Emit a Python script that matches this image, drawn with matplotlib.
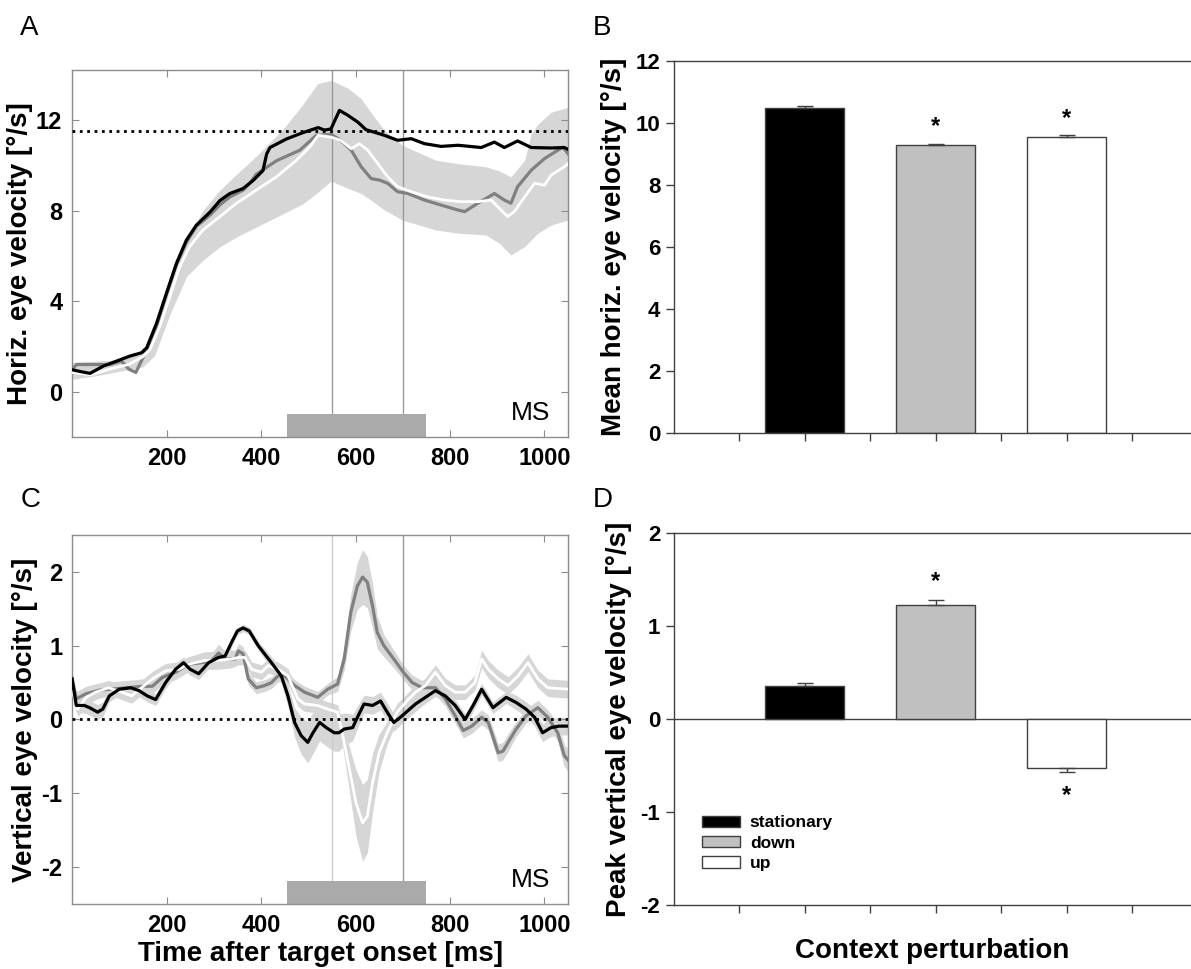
import matplotlib.pyplot as plt
import matplotlib.transforms as mtransforms

plt.rcParams['font.family'] = ['Liberation Sans', 'DejaVu Sans']
plt.rcParams['axes.unicode_minus'] = False

# ---------------- panel A: horizontal eye velocity (deg/s) ----------------
a_stat_t = [0, 20, 38, 66, 94, 122, 147, 158, 179, 200, 221, 242, 263, 292, 313, 334, 362, 383,
            404, 412, 419, 454, 489, 521, 534, 548, 566, 584, 605, 622, 661, 689, 718, 746, 781,
            817, 866, 894, 915, 943, 972, 1014, 1042, 1050]
a_stat_v = [0.97, 0.88, 0.81, 1.13, 1.35, 1.57, 1.72, 1.94, 3.03, 4.36, 5.67, 6.69, 7.35, 7.93,
            8.44, 8.75, 8.97, 9.32, 9.76, 10.5, 10.78, 11.16, 11.44, 11.66, 11.55, 11.6, 12.42,
            12.2, 11.9, 11.57, 11.32, 11.1, 11.17, 10.95, 10.83, 10.88, 10.78, 11.02, 10.78,
            11.07, 10.78, 10.76, 10.78, 10.7]

a_down_t = [0, 10, 45, 80, 105, 120, 135, 150, 160, 179, 200, 221, 242, 263, 292, 313, 334, 362,
            376, 390, 433, 482, 517, 548, 569, 591, 612, 633, 651, 668, 689, 711, 746, 781, 817,
            831, 859, 894, 915, 929, 943, 972, 1000, 1028, 1039, 1050]
a_down_v = [1.0, 1.2, 1.2, 1.2, 1.35, 1.0, 0.85, 1.5, 1.95, 2.9, 4.3, 5.6, 6.6, 7.3, 7.8, 8.25,
            8.6, 8.9, 9.2, 9.6, 10.2, 10.66, 11.32, 11.36, 11.1, 10.66, 9.93, 9.41, 9.34, 9.2,
            8.83, 8.75, 8.46, 8.24, 8.02, 7.95, 8.32, 8.75, 8.46, 8.32, 9.05, 9.78, 10.29, 10.66,
            10.8, 10.5]

a_up_t = [0, 40, 80, 120, 150, 165, 186, 207, 228, 249, 277, 313, 348, 390, 433, 475, 503, 521,
          548, 569, 591, 608, 626, 647, 668, 689, 718, 753, 788, 823, 859, 887, 908, 922, 936,
          958, 979, 1000, 1014, 1042, 1050]
a_up_v = [0.85, 0.75, 1.0, 1.2, 1.55, 1.87, 2.9, 4.21, 5.53, 6.41, 7.14, 7.73, 8.32, 8.9, 9.49,
          10.22, 10.8, 11.32, 11.24, 11.1, 10.73, 10.95, 10.66, 10.07, 9.49, 9.05, 8.83, 8.6,
          8.46, 8.39, 8.39, 8.46, 8.02, 7.73, 7.95, 8.6, 9.2, 9.12, 9.56, 9.93, 10.07]

a_band_t = [0, 50, 100, 150, 175, 207, 242, 277, 313, 348, 390, 447, 489, 520, 548, 584, 612,
            640, 661, 699, 770, 817, 876, 904, 929, 958, 972, 986, 1014, 1050]
a_band_lo = [0.55, 0.7, 0.9, 1.1, 1.6, 3.4, 5.08, 5.8, 6.4, 6.83, 7.27, 7.86, 8.3, 8.8, 9.3,
             8.98, 8.75, 8.35, 8.02, 7.58, 7.14, 7.0, 6.92, 6.56, 6.04, 6.41, 6.7, 7.0, 7.36, 7.58]
a_band_hi = [1.3, 1.35, 1.4, 1.8, 2.6, 4.6, 6.7, 8.0, 8.9, 9.6, 10.4, 11.6, 12.7, 13.6, 13.75,
             13.4, 12.93, 12.12, 11.54, 10.88, 10.22, 10.07, 9.93, 9.75, 9.49, 10.22, 11.39,
             11.8, 12.34, 12.56]
a_ref_level = 11.5

# ---------------- panel C: vertical eye velocity (deg/s) ----------------
c_stat_t = [0, 9, 26, 37, 54, 65, 79, 100, 124, 142, 159, 177, 198, 219, 236, 250, 268, 289,
            310, 324, 338, 350, 362, 375, 394, 422, 443, 457, 471, 485, 499, 510, 524, 538, 555,
            565, 576, 594, 604, 618, 636, 653, 667, 681, 695, 727, 748, 769, 790, 811, 832, 849,
            867, 891, 919, 940, 961, 979, 996, 1014, 1031, 1050]
c_stat_v = [0.55, 0.19, 0.19, 0.16, 0.1, 0.14, 0.32, 0.41, 0.43, 0.39, 0.32, 0.27, 0.5, 0.68,
            0.77, 0.68, 0.62, 0.77, 0.84, 0.86, 1.05, 1.2, 1.24, 1.2, 1.0, 0.77, 0.59, 0.32,
            -0.04, -0.22, -0.31, -0.18, -0.04, -0.11, -0.18, -0.18, -0.13, -0.11, 0.03, 0.21,
            0.19, 0.25, 0.1, -0.04, 0.03, 0.21, 0.3, 0.39, 0.32, 0.19, 0.0, 0.19, 0.41, 0.16,
            0.3, 0.23, 0.14, 0.03, -0.18, -0.11, -0.09, -0.09]
c_stat_se = [0.12, 0.1, 0.1, 0.1, 0.1, 0.1, 0.08, 0.08, 0.08, 0.08, 0.08, 0.08, 0.08, 0.08,
             0.08, 0.08, 0.08, 0.08, 0.08, 0.08, 0.06, 0.05, 0.05, 0.05, 0.06, 0.08, 0.1, 0.15,
             0.2, 0.25, 0.28, 0.28, 0.25, 0.25, 0.25, 0.25, 0.22, 0.18, 0.15, 0.12, 0.12, 0.12,
             0.12, 0.12, 0.1, 0.1, 0.08, 0.08, 0.08, 0.08, 0.08, 0.08, 0.08, 0.08, 0.08, 0.1,
             0.1, 0.12, 0.12, 0.12, 0.12, 0.12]

c_down_t = [0, 9, 30, 60, 100, 150, 170, 191, 219, 247, 275, 296, 310, 325, 345, 352, 362, 373,
            390, 408, 422, 436, 450, 471, 492, 520, 541, 562, 576, 590, 604, 615, 625, 636, 646,
            660, 681, 700, 720, 741, 769, 790, 811, 828, 846, 867, 881, 902, 912, 923, 940, 961,
            986, 1007, 1028, 1042, 1050]
c_down_v = [0.55, 0.28, 0.35, 0.4, 0.42, 0.45, 0.45, 0.57, 0.64, 0.75, 0.77, 0.8, 0.9, 0.82,
            0.82, 0.93, 0.89, 0.55, 0.43, 0.46, 0.5, 0.59, 0.59, 0.46, 0.37, 0.3, 0.41, 0.48,
            0.82, 1.45, 1.81, 1.93, 1.86, 1.54, 1.18, 1.0, 0.82, 0.65, 0.5, 0.43, 0.43, 0.28,
            0.05, -0.15, -0.09, 0.03, -0.04, -0.45, -0.43, -0.31, -0.13, 0.05, 0.16, 0.03,
            -0.18, -0.49, -0.55]
c_down_se = [0.1, 0.1, 0.1, 0.1, 0.1, 0.1, 0.1, 0.1, 0.1, 0.1, 0.1, 0.1, 0.12, 0.1, 0.1, 0.1,
             0.1, 0.08, 0.08, 0.08, 0.08, 0.08, 0.08, 0.08, 0.08, 0.08, 0.08, 0.1, 0.15, 0.25,
             0.32, 0.37, 0.35, 0.3, 0.22, 0.15, 0.12, 0.1, 0.1, 0.1, 0.1, 0.1, 0.1, 0.1, 0.1,
             0.1, 0.1, 0.12, 0.12, 0.12, 0.1, 0.1, 0.1, 0.1, 0.12, 0.15, 0.15]

c_up_t = [0, 12, 30, 50, 77, 105, 126, 147, 170, 198, 226, 247, 282, 310, 338, 352, 366, 380,
          401, 415, 436, 457, 478, 492, 520, 541, 562, 573, 587, 601, 615, 625, 636, 650, 667,
          688, 709, 727, 748, 769, 790, 811, 832, 853, 867, 881, 902, 923, 944, 965, 986, 1007,
          1050]
c_up_v = [0.4, 0.14, 0.3, 0.37, 0.43, 0.37, 0.32, 0.43, 0.55, 0.66, 0.68, 0.75, 0.8, 0.8, 0.82,
          0.84, 0.84, 0.68, 0.64, 0.73, 0.68, 0.59, 0.28, 0.21, 0.19, 0.14, 0.1, -0.22, -0.67,
          -1.13, -1.4, -1.31, -0.86, -0.45, -0.18, 0.1, 0.25, 0.37, 0.46, 0.64, 0.46, 0.37,
          0.37, 0.5, 0.82, 0.68, 0.55, 0.46, 0.59, 0.77, 0.55, 0.43, 0.41]
c_up_se = [0.1, 0.1, 0.1, 0.1, 0.1, 0.1, 0.1, 0.1, 0.1, 0.1, 0.1, 0.1, 0.12, 0.12, 0.12, 0.1,
           0.1, 0.1, 0.1, 0.1, 0.1, 0.1, 0.1, 0.1, 0.1, 0.1, 0.1, 0.15, 0.3, 0.45, 0.52, 0.5,
           0.4, 0.25, 0.15, 0.12, 0.1, 0.1, 0.1, 0.1, 0.1, 0.1, 0.1, 0.1, 0.12, 0.12, 0.12, 0.12,
           0.12, 0.12, 0.12, 0.12, 0.12]

perturb_start, perturb_end = 455, 750
analysis_lines = [550, 700]

# ---------------- panels B / D: bar summaries ----------------
conditions = ['stationary', 'down', 'up']
bar_colors = ['black', '#c0c0c0', 'white']
mean_horiz = [10.5, 9.29, 9.56]
mean_horiz_err = [0.05, 0.05, 0.05]
peak_vert = [0.355, 1.225, -0.53]
peak_vert_err = [0.035, 0.06, 0.04]
horiz_signif = [False, True, True]
vert_signif = [False, True, True]

LINE_GRAY = '#808080'
BAND = '#d6d6d6'
BOX = '#8c8c8c'


def style_trace_axes(ax):
    for s in ax.spines.values():
        s.set_color(BOX)
        s.set_linewidth(1.0)
    ax.tick_params(direction='in', length=5, width=0.8, color=BOX, top=True, right=True,
                   labelsize=17, pad=7)
    for lab in ax.get_xticklabels() + ax.get_yticklabels():
        lab.set_fontweight('bold')


def add_markers(ax, line_colors):
    trans = mtransforms.blended_transform_factory(ax.transData, ax.transAxes)
    ax.add_patch(plt.Rectangle((perturb_start, 0), perturb_end - perturb_start, 0.062,
                               transform=trans, color='#aaaaaa', lw=0, zorder=2))
    for x, c in zip(analysis_lines, line_colors):
        ax.axvline(x, color=c, lw=1.0, zorder=1.5)
    ax.text(0.965, 0.065, 'MS', transform=ax.transAxes, ha='right', va='center', fontsize=19)


def style_bar_axes(ax, ylim, yticks, ylabel):
    ax.set_xlim(0, 3.95)
    ax.set_ylim(*ylim)
    ax.set_yticks(yticks)
    ax.set_xticks([0.5, 1, 1.5, 2, 2.5, 3, 3.5])
    ax.set_xticklabels([])
    ax.spines['right'].set_visible(False)
    for s in ['left', 'top', 'bottom']:
        ax.spines[s].set_color('#404040')
        ax.spines[s].set_linewidth(1.0)
    ax.tick_params(direction='out', length=6, width=1, color='#404040', labelsize=16)
    for lab in ax.get_yticklabels():
        lab.set_fontweight('bold')
    ax.set_ylabel(ylabel, fontsize=20, fontweight='bold', labelpad=6)


fig = plt.figure(figsize=(11.91, 9.69), dpi=100)

# ---- A ----
axA = fig.add_axes([0.0605, 0.549, 0.4165, 0.3787])
axA.fill_between(a_band_t, a_band_lo, a_band_hi, color=BAND, lw=0, zorder=1)
add_markers(axA, ['#999999', '#999999'])
axA.plot(a_down_t, a_down_v, color=LINE_GRAY, lw=2.3, zorder=3)
axA.plot(a_up_t, a_up_v, color='white', lw=2.0, zorder=3)
axA.plot(a_stat_t, a_stat_v, color='black', lw=2.3, zorder=4)
axA.axhline(a_ref_level, color='black', ls=':', lw=2, zorder=5)
axA.set_xlim(0, 1050)
axA.set_ylim(-2, 14.2)
axA.set_xticks([200, 400, 600, 800, 1000])
axA.set_yticks([0, 4, 8, 12])
axA.set_ylabel('Horiz. eye velocity [°/s]', fontsize=20, fontweight='bold', labelpad=2)
style_trace_axes(axA)

# ---- C ----
axC = fig.add_axes([0.0605, 0.0671, 0.4165, 0.3808])
for t, v, se in [(c_down_t, c_down_v, c_down_se), (c_up_t, c_up_v, c_up_se),
                 (c_stat_t, c_stat_v, c_stat_se)]:
    lo = [a - b for a, b in zip(v, se)]
    hi = [a + b for a, b in zip(v, se)]
    axC.fill_between(t, lo, hi, color=BAND, lw=0, zorder=1)
add_markers(axC, ['#cccccc', '#999999'])
axC.plot(c_down_t, c_down_v, color=LINE_GRAY, lw=2.3, zorder=3)
axC.plot(c_up_t, c_up_v, color='white', lw=2.0, zorder=3)
axC.plot(c_stat_t, c_stat_v, color='black', lw=2.3, zorder=4)
axC.axhline(0, color='black', ls=':', lw=2, zorder=5)
axC.set_xlim(0, 1050)
axC.set_ylim(-2.5, 2.5)
axC.set_xticks([200, 400, 600, 800, 1000])
axC.set_yticks([-2, -1, 0, 1, 2])
axC.set_ylabel('Vertical eye velocity [°/s]', fontsize=20, fontweight='bold', labelpad=2)
axC.set_xlabel('Time after target onset [ms]', fontsize=20, fontweight='bold', labelpad=3)
style_trace_axes(axC)

# ---- B ----
xpos = [1, 2, 3]
axB = fig.add_axes([0.5655, 0.5531, 0.4345, 0.3839])
axB.bar(xpos, mean_horiz, width=0.6, color=bar_colors, edgecolor='#404040', lw=1, zorder=2)
axB.errorbar(xpos, mean_horiz, yerr=[[0, 0, 0], mean_horiz_err], fmt='none',
             ecolor='#404040', elinewidth=1, capsize=6, zorder=3)
for x, v, e, s in zip(xpos, mean_horiz, mean_horiz_err, horiz_signif):
    if s:
        axB.text(x, v + e + 0.55, '*', ha='center', va='center', fontsize=17, fontweight='bold')
style_bar_axes(axB, (0, 12), range(0, 13, 2), 'Mean horiz. eye velocity [°/s]')

# ---- D ----
axD = fig.add_axes([0.5655, 0.066, 0.4345, 0.3836])
axD.axhline(0, color='#404040', lw=1, zorder=1)
bars = axD.bar(xpos, peak_vert, width=0.6, color=bar_colors, edgecolor='#404040', lw=1,
               zorder=2)
lower = [e if v < 0 else 0 for v, e in zip(peak_vert, peak_vert_err)]
upper = [e if v >= 0 else 0 for v, e in zip(peak_vert, peak_vert_err)]
axD.errorbar(xpos, peak_vert, yerr=[lower, upper], fmt='none', ecolor='#404040',
             elinewidth=1, capsize=6, zorder=3)
for x, v, e, s in zip(xpos, peak_vert, peak_vert_err, vert_signif):
    if s:
        y = v + e + 0.2 if v >= 0 else v - e - 0.25
        axD.text(x, y, '*', ha='center', va='center', fontsize=17, fontweight='bold')
style_bar_axes(axD, (-2, 2), [-2, -1, 0, 1, 2], 'Peak vertical eye velocity [°/s]')
axD.set_xlabel('Context perturbation', fontsize=20, fontweight='bold', labelpad=14)
leg = axD.legend(bars, conditions, loc='lower left', bbox_to_anchor=(0.025, 0.05),
                 frameon=False, handlelength=2.2, handleheight=0.65, handletextpad=0.55,
                 labelspacing=0.3, prop={'size': 12.5, 'weight': 'bold'})

# panel letters
for letter, x, y in [('A', 0.017, 0.971), ('B', 0.498, 0.971), ('C', 0.017, 0.484),
                     ('D', 0.498, 0.484)]:
    fig.text(x, y, letter, fontsize=20, ha='left', va='center')

fig.savefig('out.png', dpi=100)
